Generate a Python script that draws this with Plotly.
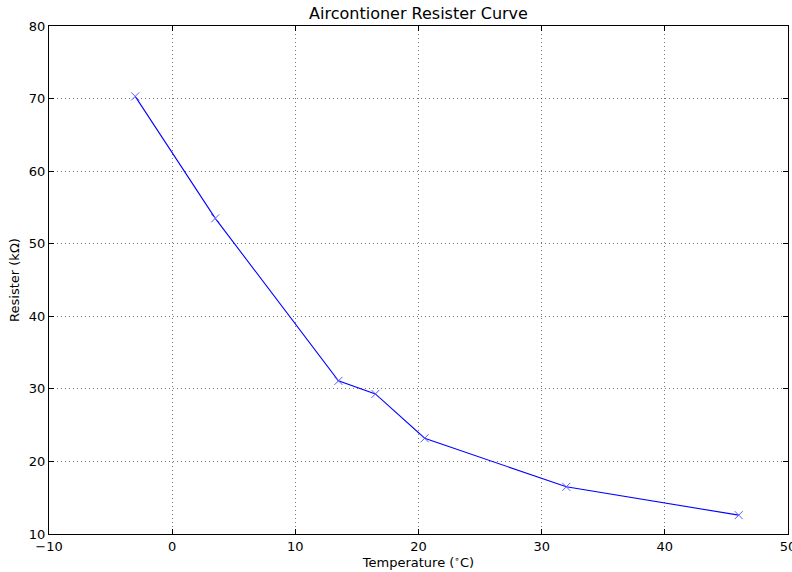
import plotly.graph_objects as go

# Measured resistance of the air-conditioner thermistor at each temperature
temperature_c = [-3, 3.5, 13.5, 16.5, 20.5, 32, 46]
resistance_kohm = [70.3, 53.5, 31.1, 29.3, 23.2, 16.5, 12.6]

x_ticks = [-10, 0, 10, 20, 30, 40, 50]
y_ticks = [10, 20, 30, 40, 50, 60, 70, 80]

fig = go.Figure()
fig.add_trace(go.Scatter(
    x=temperature_c,
    y=resistance_kohm,
    mode="lines+markers",
    line=dict(color="#0000ff", width=1.1),
    marker=dict(symbol="x-thin", size=8, line=dict(color="#5a5aff", width=1)),
    showlegend=False,
))

axis_common = dict(
    showline=True, linecolor="black", linewidth=1, mirror="allticks",
    ticks="inside", ticklen=5, tickcolor="black",
    showgrid=True, gridcolor="rgba(0,0,0,0.55)", griddash="1px,3px", gridwidth=1,
    zeroline=False, automargin=False,
    ticklabeloverflow="allow",
    tickfont=dict(family="DejaVu Sans", size=13, color="black"),
)

fig.update_layout(
    width=792, height=572,
    margin=dict(l=49, r=4, t=26, b=38),
    paper_bgcolor="white", plot_bgcolor="white",
    font=dict(family="DejaVu Sans", color="black"),
    title=dict(text="Aircontioner Resister Curve", xref="paper", x=0.5, xanchor="center",
               y=0.986, yanchor="top", font=dict(size=16)),
    xaxis=dict(range=[-10, 50], tickvals=x_ticks,
               ticktext=["\u221210" if v < 0 else str(v) for v in x_ticks],
               title=dict(text="Temperature (<sup>\u2218</sup>C)", font=dict(size=13), standoff=4),
               **axis_common),
    yaxis=dict(range=[10, 80], tickvals=y_ticks,
               title=dict(text="Resister (k\u03a9)", font=dict(size=13), standoff=6),
               **axis_common),
)

fig.write_html("out.html")
